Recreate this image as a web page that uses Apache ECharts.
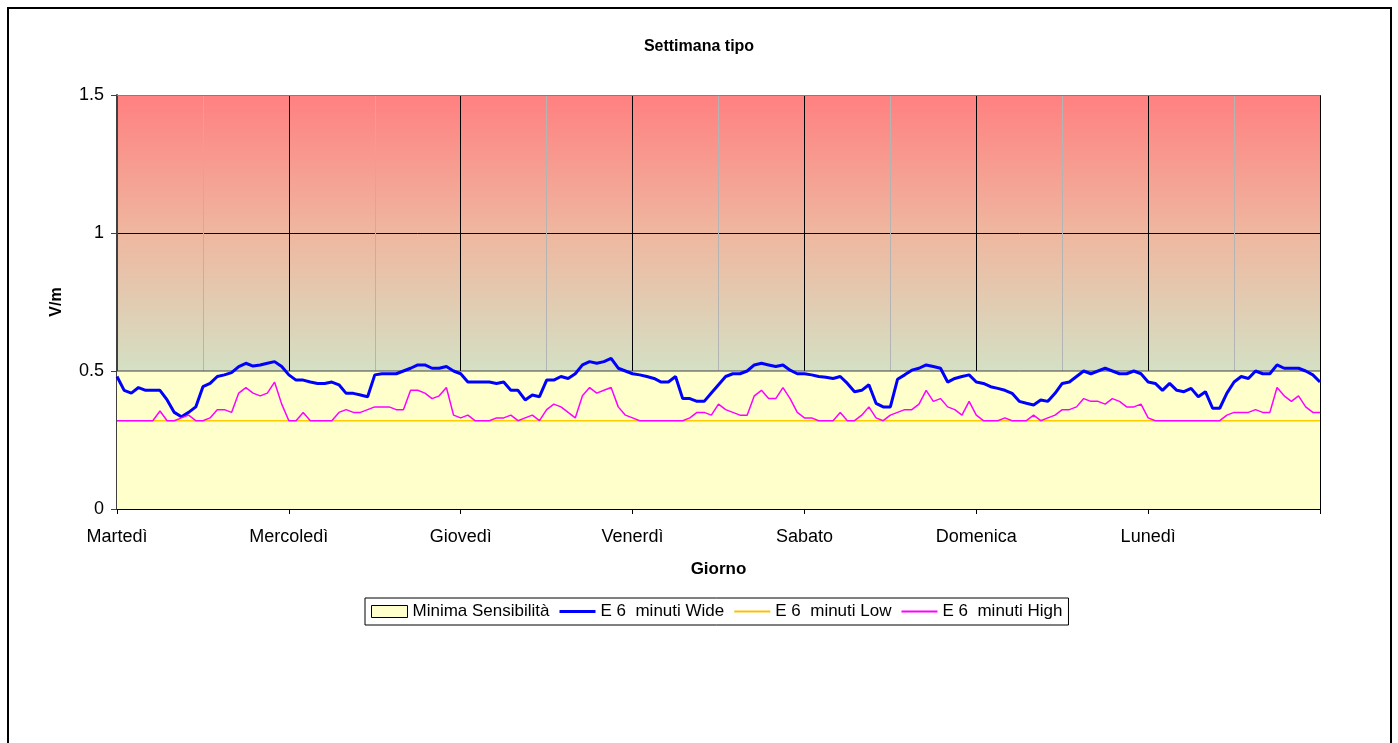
<!DOCTYPE html>
<html>
<head>
<meta charset="utf-8">
<script src="https://cdn.jsdelivr.net/npm/echarts@6/dist/echarts.min.js"></script>
<style>
html,body{margin:0;padding:0;background:#fff;}
#chart{position:absolute;left:0;top:0;width:1398px;height:743px;}
#frame{position:absolute;left:7px;top:7px;width:1381px;height:800px;border:2px solid #000;pointer-events:none;}
</style>
</head>
<body>
<div id="chart"></div>
<div id="frame"></div>
<script>
// Categories (day labels at each day boundary; 24 hourly samples per day)
const days = ['Martedì','Mercoledì','Giovedì','Venerdì','Sabato','Domenica','Lunedì'];
const hoursPerDay = 24;

// Constant levels
const minimaSensibilita = 0.5;
const lowLevel = 0.32;

// E 6 minuti Wide (hourly readings)
const wideMar = [0.48,0.43,0.42,0.44,0.43,0.43,0.43,0.395,0.35,0.334,0.35,0.37,0.443,0.455,0.48,0.486,0.494,0.516,0.528,0.518,0.522,0.528,0.534,0.516];
const wideMer = [0.486,0.467,0.467,0.46,0.455,0.455,0.46,0.45,0.419,0.419,0.413,0.407,0.486,0.49,0.49,0.49,0.5,0.51,0.522,0.522,0.51,0.51,0.516,0.5];
const wideGio = [0.49,0.46,0.46,0.46,0.46,0.455,0.46,0.43,0.43,0.395,0.413,0.407,0.467,0.467,0.48,0.473,0.49,0.522,0.534,0.528,0.534,0.546,0.51,0.5];
const wideVen = [0.49,0.486,0.48,0.473,0.46,0.46,0.48,0.40,0.40,0.39,0.39,0.42,0.45,0.48,0.49,0.49,0.5,0.522,0.528,0.522,0.516,0.522,0.503,0.49];
const wideSab = [0.49,0.486,0.48,0.477,0.473,0.48,0.455,0.425,0.43,0.45,0.383,0.37,0.37,0.47,0.486,0.503,0.51,0.522,0.516,0.51,0.46,0.473,0.48,0.486];
const wideDom = [0.46,0.455,0.443,0.437,0.43,0.419,0.39,0.383,0.377,0.395,0.39,0.419,0.455,0.46,0.48,0.5,0.49,0.5,0.51,0.5,0.49,0.49,0.5,0.49];
const wideLun = [0.46,0.455,0.43,0.455,0.43,0.425,0.437,0.407,0.425,0.365,0.365,0.42,0.46,0.48,0.473,0.5,0.49,0.49,0.522,0.51,0.51,0.51,0.5,0.486];
const wideEnd = [0.46];

// E 6 minuti High (hourly readings)
const highMar = [0.32,0.32,0.32,0.32,0.32,0.32,0.355,0.32,0.32,0.33,0.34,0.32,0.32,0.33,0.36,0.36,0.35,0.42,0.44,0.42,0.41,0.42,0.46,0.38];
const highMer = [0.32,0.32,0.35,0.32,0.32,0.32,0.32,0.35,0.36,0.35,0.35,0.36,0.37,0.37,0.37,0.36,0.36,0.43,0.43,0.42,0.40,0.41,0.44,0.34];
const highGio = [0.33,0.34,0.32,0.32,0.32,0.33,0.33,0.34,0.32,0.33,0.34,0.32,0.36,0.38,0.37,0.35,0.33,0.41,0.44,0.42,0.43,0.44,0.37,0.34];
const highVen = [0.33,0.32,0.32,0.32,0.32,0.32,0.32,0.32,0.33,0.35,0.35,0.34,0.38,0.36,0.35,0.34,0.34,0.41,0.43,0.40,0.40,0.44,0.40,0.35];
const highSab = [0.33,0.33,0.32,0.32,0.32,0.35,0.32,0.32,0.34,0.37,0.33,0.32,0.34,0.35,0.36,0.36,0.38,0.43,0.39,0.40,0.37,0.36,0.34,0.39];
const highDom = [0.34,0.32,0.32,0.32,0.33,0.32,0.32,0.32,0.34,0.32,0.33,0.34,0.36,0.36,0.37,0.40,0.39,0.39,0.38,0.40,0.39,0.37,0.37,0.38];
const highLun = [0.33,0.32,0.32,0.32,0.32,0.32,0.32,0.32,0.32,0.32,0.32,0.34,0.35,0.35,0.35,0.36,0.35,0.35,0.44,0.41,0.39,0.41,0.37,0.35];
const highEnd = [0.35];

const wide = [].concat(wideMar, wideMer, wideGio, wideVen, wideSab, wideDom, wideLun, wideEnd);
const high = [].concat(highMar, highMer, highGio, highVen, highSab, highDom, highLun, highEnd);
const totalHours = days.length * hoursPerDay;

const FONT = 'Arial, "Liberation Sans", sans-serif';
// legend line icons (plain lines, no symbols)
const thinLineIcon = 'path://M0,0 M0,5 L36,5 L36,7 L0,7 Z M36,12';
const thickLineIcon = 'path://M0,0 M0,4.5 L36,4.5 L36,7.5 L0,7.5 Z M36,12';

const chart = echarts.init(document.getElementById('chart'));
chart.setOption({
  animation: false,
  backgroundColor: '#ffffff',
  textStyle: { fontFamily: FONT, color: '#000' },
  title: {
    text: 'Settimana tipo', left: 'center', top: 34,
    textStyle: { fontSize: 16, fontWeight: 'bold', color: '#000', fontFamily: FONT }
  },
  legend: {
    left: 365, top: 598,
    borderColor: '#000', borderWidth: 1,
    padding: [5, 6, 5, 6],
    itemGap: 10, itemWidth: 36, itemHeight: 12,
    textStyle: { fontSize: 17, color: '#000', fontFamily: FONT },
    data: [
      { name: 'Minima Sensibilità', icon: 'rect', itemStyle: { color: '#FFFFCC', borderColor: '#000', borderWidth: 1 } },
      { name: 'E 6  minuti Wide', icon: thickLineIcon, itemStyle: { color: '#0000FF', borderWidth: 0 } },
      { name: 'E 6  minuti Low', icon: thinLineIcon, itemStyle: { color: '#FFC000', borderWidth: 0 } },
      { name: 'E 6  minuti High', icon: thinLineIcon, itemStyle: { color: '#FF00FF', borderWidth: 0 } }
    ]
  },
  grid: {
    left: 117, right: 78, top: 95, bottom: 234,
    show: true, borderWidth: 0,
    backgroundColor: {
      type: 'linear', x: 0, y: 0, x2: 0, y2: 1,
      colorStops: [
        { offset: 0, color: '#FF8080' },
        { offset: 0.333, color: '#EFB79F' },
        { offset: 0.667, color: '#D4E0C4' },
        { offset: 1, color: '#CCFFCC' }
      ]
    }
  },
  xAxis: [
    {
      type: 'value', min: 0, max: totalHours, interval: hoursPerDay, position: 'bottom',
      axisLine: { show: true, lineStyle: { color: '#000', width: 1 } },
      axisTick: { show: true, length: 5, lineStyle: { color: '#000' } },
      axisLabel: { fontSize: 18, color: '#000', margin: 19, formatter: v => days[v / hoursPerDay] || '' },
      splitLine: { show: false },
      name: 'Giorno', nameLocation: 'middle', nameGap: 52,
      nameTextStyle: { fontWeight: 'bold', fontSize: 17, color: '#000' }
    },
    {
      type: 'value', min: 0, max: totalHours, interval: hoursPerDay / 2, position: 'top',
      axisLine: { show: true, lineStyle: { color: '#808080', width: 1 } },
      axisTick: { show: false }, axisLabel: { show: false },
      splitLine: { show: true, lineStyle: { color: ['#000000', '#b4b4b4'], width: 1 } }
    }
  ],
  yAxis: {
    type: 'value', min: 0, max: 1.5, interval: 0.5,
    axisLine: { show: true, lineStyle: { color: '#404040', width: 2 } },
    axisTick: { show: true, length: 6, lineStyle: { color: '#404040' } },
    axisLabel: { fontSize: 18, color: '#000', margin: 13 },
    splitLine: { show: true, lineStyle: { color: ['#000', '#000', '#000', '#808080'], width: 1 } },
    name: 'V/m', nameLocation: 'middle', nameGap: 52, nameRotate: 90,
    nameTextStyle: { fontWeight: 'bold', fontSize: 16, color: '#000' }
  },
  series: [
    {
      name: 'Minima Sensibilità', type: 'line', xAxisIndex: 0, symbol: 'none', silent: true,
      data: [[0, minimaSensibilita], [totalHours, minimaSensibilita]],
      lineStyle: { color: '#404040', width: 1 },
      itemStyle: { color: '#FFFFCC', borderColor: '#000' },
      areaStyle: { color: '#FFFFCC', opacity: 1 }
    },
    {
      name: 'E 6  minuti Wide', type: 'line', xAxisIndex: 0, symbol: 'none', showSymbol: false,
      data: wide.map((v, i) => [i, v]),
      lineStyle: { color: '#0000FF', width: 3 }, itemStyle: { color: '#0000FF' }
    },
    {
      name: 'E 6  minuti Low', type: 'line', xAxisIndex: 0, symbol: 'none', showSymbol: false,
      data: [[0, lowLevel], [totalHours, lowLevel]],
      lineStyle: { color: '#FFCC00', width: 1.5 }, itemStyle: { color: '#FFCC00' }
    },
    {
      name: 'E 6  minuti High', type: 'line', xAxisIndex: 0, symbol: 'none', showSymbol: false,
      data: high.map((v, i) => [i, v]),
      lineStyle: { color: '#FF00FF', width: 1.5 }, itemStyle: { color: '#FF00FF' }
    }
  ]
});
</script>
</body>
</html>
